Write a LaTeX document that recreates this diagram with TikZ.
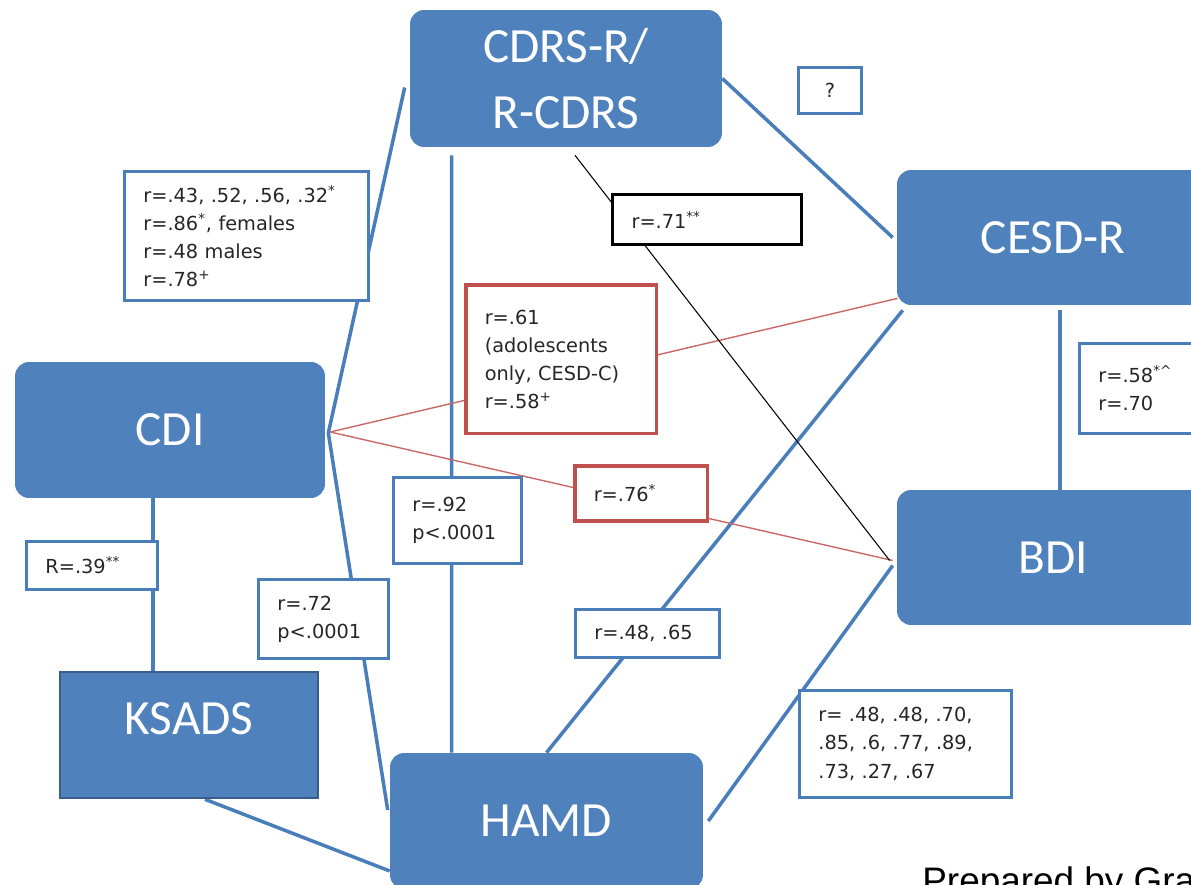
\documentclass[tikz,border=0pt]{standalone}
\usepackage{fontspec}
\setmainfont{Carlito}
\newfontfamily\lblfont{DejaVu Sans}
\newfontfamily\notefont{Liberation Sans}
\usepackage{tikz}
\usetikzlibrary{calc,backgrounds}
\definecolor{boxblue}{HTML}{4F81BD}
\definecolor{lineblue}{HTML}{4A7EBB}
\definecolor{ksadsedge}{HTML}{385D8A}
\definecolor{boxred}{HTML}{C0504D}

\begin{document}
\begin{tikzpicture}[x=0.02cm,y=-0.02cm,
	measure/.style={fill=boxblue,text=white,rounded corners=0.28cm,minimum width=6.2cm,minimum height=2.72cm,inner sep=0pt,align=center,font=\fontsize{28}{38}\selectfont},
	corr/.style={draw=lineblue,line width=1.6pt,fill=white,anchor=north west,align=left,inner xsep=0.38cm,inner ysep=0.1cm,text=black!85,font=\lblfont\fontsize{11}{16}\selectfont},
	link/.style={draw=lineblue,line width=2pt},
	redlink/.style={draw=boxred!85,line width=0.8pt}]
	\useasboundingbox (0,0) rectangle (1191,885);
	\clip (0,0) rectangle (1191,885);

	\node[measure,minimum width=6.24cm,minimum height=2.74cm] (cdrs) at (566,78.5) {CDRS-R/\\R-CDRS};
	\node[measure,minimum width=6.24cm,minimum height=2.7cm] (cesd) at (1053,237.5) {CESD-R};
	\node[measure] (cdi) at (170,430) {CDI};
	\node[measure,minimum width=6.24cm,minimum height=2.7cm] (bdi) at (1053,557.5) {BDI};
	\node[measure,minimum width=6.26cm] (hamd) at (546.5,821) {HAMD};
	\node[measure,rounded corners=0pt,draw=ksadsedge,line width=1.5pt,minimum width=5.16cm,minimum height=2.52cm,text height=0.64cm,text depth=0.68cm,inner ysep=0.6cm] (ksads) at (189,735) {KSADS};

	\node[corr,text width=4.12cm,minimum height=2.58cm] (rcdrs) at (123,170) {r=.43, .52, .56, .32\textsuperscript{*}\\r=.86\textsuperscript{*}, females\\r=.48 males\\r=.78\textsuperscript{+}};
	\node[corr,align=center,text width=0.5cm,minimum height=0.92cm] (rq) at (797,66) {?};
	\node[corr,draw=black,line width=1.8pt,text width=3.02cm,minimum height=1cm] (rbdi) at (611,193) {r=.71\textsuperscript{**}};
	\node[corr,draw=boxred,line width=2pt,text width=3.06cm,minimum height=2.98cm] (rcesd) at (464,283) {r=.61\\(adolescents\\only, CESD-C)\\r=.58\textsuperscript{+}};
	\node[corr,text width=1.74cm,minimum height=1.8cm] (rcb) at (1078,342) {r=.58\textsuperscript{*\textasciicircum}\\r=.70};
	\node[corr,text width=1.86cm,minimum height=0.96cm] (rks) at (25,540) {R=.39\textsuperscript{**}};
	\node[corr,text width=1.8cm,minimum height=1.72cm] (rch) at (392,476) {r=.92\\p<.0001};
	\node[corr,draw=boxred,line width=2pt,text width=1.9cm,minimum height=1.1cm] (rcdibdi) at (573,464) {r=.76\textsuperscript{*}};
	\node[corr,text width=1.84cm,minimum height=1.58cm] (rcdihamd) at (257,578) {r=.72\\p<.0001};
	\node[corr,text width=2.12cm,minimum height=0.96cm] (rhc) at (574,608) {r=.48, .65};
	\node[corr,text width=3.48cm,minimum height=2.14cm] (rhb) at (798,689) {r= .48, .48, .70,\\.85, .6, .77, .89,\\.73, .27, .67};

	\node[anchor=base west,inner sep=0pt,font=\notefont\fontsize{21}{25}\selectfont] (credit) at (922,893) {Prepared by Gra};

	\begin{scope}[on background layer]
		\draw[link] ($(cdi.east)+(3,3)$) -- ($(cdrs.west)+(-5,9)$);
		\draw[link] ($(cdi.east)+(3,3)$) -- ($(hamd.west)+(-2,-11)$);
		\draw[link] ($(cdi.south)+(-17,0)$) -- ($(ksads.north)+(-36,0)$);
		\draw[link] ($(ksads.south)+(16,0)$) -- ($(hamd.west)+(0,50)$);
		\draw[link] ($(cdrs.south west)+(42,8)$) -- ($(hamd.north west)+(62,0)$);
		\draw[link] (cdrs.east) -- ($(cesd.west)+(-4,0)$);
		\draw[link] ($(cesd.south)+(7,5)$) -- ($(bdi.north)+(7,0)$);
		\draw[link] (hamd.north) -- ($(cesd.south west)+(6,5)$);
		\draw[link] ($(hamd.east)+(5,0)$) -- ($(bdi.west)+(-4,8)$);
		\draw[redlink] ($(cdi.east)+(5,2)$) -- ($(cesd.south west)+(1,-7)$);
		\draw[redlink] ($(cdi.east)+(5,2)$) -- ($(bdi.west)+(-4,3)$);
		\draw[black,line width=0.6pt] ($(cdrs.south)+(9,8)$) -- ($(bdi.west)+(-7,3)$);
	\end{scope}
\end{tikzpicture}
\end{document}
